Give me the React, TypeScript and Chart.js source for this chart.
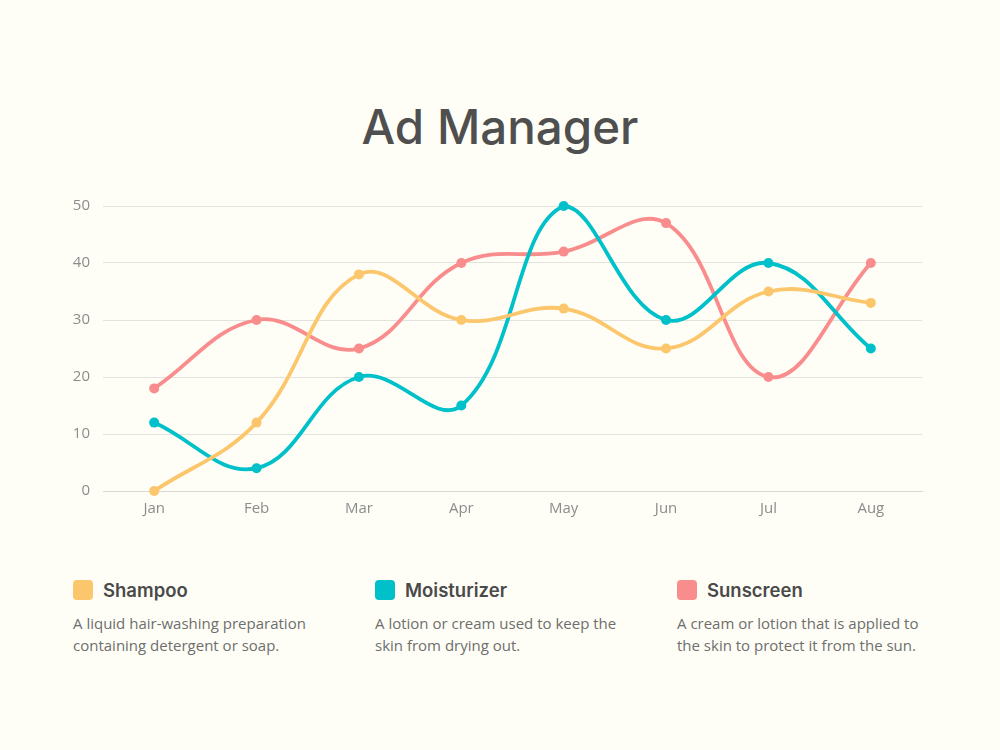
import React, { useEffect, useRef } from "react";
import { Chart, registerables } from "chart.js";

Chart.register(...registerables);

const months = ["Jan", "Feb", "Mar", "Apr", "May", "Jun", "Jul", "Aug"];
const shampoo = [0, 12, 38, 30, 32, 25, 35, 33];
const moisturizer = [12, 4, 20, 15, 50, 30, 40, 25];
const sunscreen = [18, 30, 25, 40, 42, 47, 20, 40];
const yTicks = [0, 10, 20, 30, 40, 50];

const seriesNames = ["Shampoo", "Moisturizer", "Sunscreen"];
const seriesColors = ["#fcc66c", "#00c0c9", "#f98c8c"];
const seriesNotes = [
  "A liquid hair-washing preparation containing detergent or soap.",
  "A lotion or cream used to keep the skin from drying out.",
  "A cream or lotion that is applied to the skin to protect it from the sun.",
];

const BG = "#fefef6";

export default function App() {
  const ref = useRef<HTMLCanvasElement>(null);

  useEffect(() => {
    if (!ref.current) return;
    const values = [shampoo, moisturizer, sunscreen];
    const chart = new Chart(ref.current, {
      type: "line",
      data: {
        labels: months,
        datasets: seriesNames.map((n, i) => ({
          label: n,
          data: values[i],
          borderColor: seriesColors[i],
          backgroundColor: seriesColors[i],
          pointBackgroundColor: seriesColors[i],
          pointBorderWidth: 0,
          pointRadius: 5,
          borderWidth: 3.8,
          tension: 0.4,
          fill: false,
          clip: false as any,
        })),
      },
      options: {
        animation: false,
        responsive: false,
        maintainAspectRatio: false,
        layout: { padding: { top: 0, right: 8, left: 0, bottom: 0 } },
        plugins: {
          legend: { display: false },
          title: { display: false },
          tooltip: { enabled: false },
        },
        scales: {
          x: {
            offset: true,
            grid: { display: false, drawTicks: false },
            border: { display: true, color: "#d9d9d4", width: 1 },
            ticks: {
              color: "#8c8c8c",
              font: { family: "'Open Sans'", size: 15, weight: 400 },
              padding: 9,
            },
            afterFit: (s: any) => {
              s.height = 34;
            },
          },
          y: {
            min: 0,
            max: 50,
            afterBuildTicks: (s: any) => {
              s.ticks = yTicks.map((v) => ({ value: v }));
            },
            grid: { color: "#e3e3de", lineWidth: 1, drawTicks: false },
            border: { display: false },
            ticks: {
              color: "#8c8c8c",
              font: { family: "'Open Sans'", size: 15, weight: 400 },
              padding: 13,
            },
            afterFit: (s: any) => {
              s.width = 63;
            },
          },
        },
      },
    });
    return () => chart.destroy();
  }, []);

  return (
    <div
      style={{
        position: "fixed",
        left: 0,
        top: 0,
        width: 1000,
        height: 750,
        background: BG,
        fontFamily: "'Open Sans', sans-serif",
        overflow: "hidden",
      }}
    >
      <div
        style={{
          position: "absolute",
          left: 0,
          width: 1000,
          top: 92,
          textAlign: "center",
          fontFamily: "Inter, sans-serif",
          fontWeight: 500,
          fontSize: 47.5,
          lineHeight: "70px",
          color: "#4f4f4f",
        }}
      >
        Ad Manager
      </div>
      <canvas
        ref={ref}
        width={890}
        height={341}
        style={{ position: "absolute", left: 40, top: 184, width: 890, height: 341 }}
      />
      {seriesNames.map((n, i) => (
        <div
          key={n}
          style={{ position: "absolute", left: 73 + i * 302, top: 576, width: 250 }}
        >
          <div style={{ display: "flex", alignItems: "center", height: 28 }}>
            <div
              style={{
                width: 20,
                height: 20,
                borderRadius: 4,
                background: seriesColors[i],
                marginRight: 10,
              }}
            />
            <div
              style={{
                fontFamily: "Inter, sans-serif",
                fontWeight: 600,
                fontSize: 18.5,
                color: "#4a4a4a",
              }}
            >
              {n}
            </div>
          </div>
          <div
            style={{
              marginTop: 8,
              fontSize: 15,
              lineHeight: "22px",
              color: "#6e6e6e",
            }}
          >
            {seriesNotes[i]}
          </div>
        </div>
      ))}
    </div>
  );
}
